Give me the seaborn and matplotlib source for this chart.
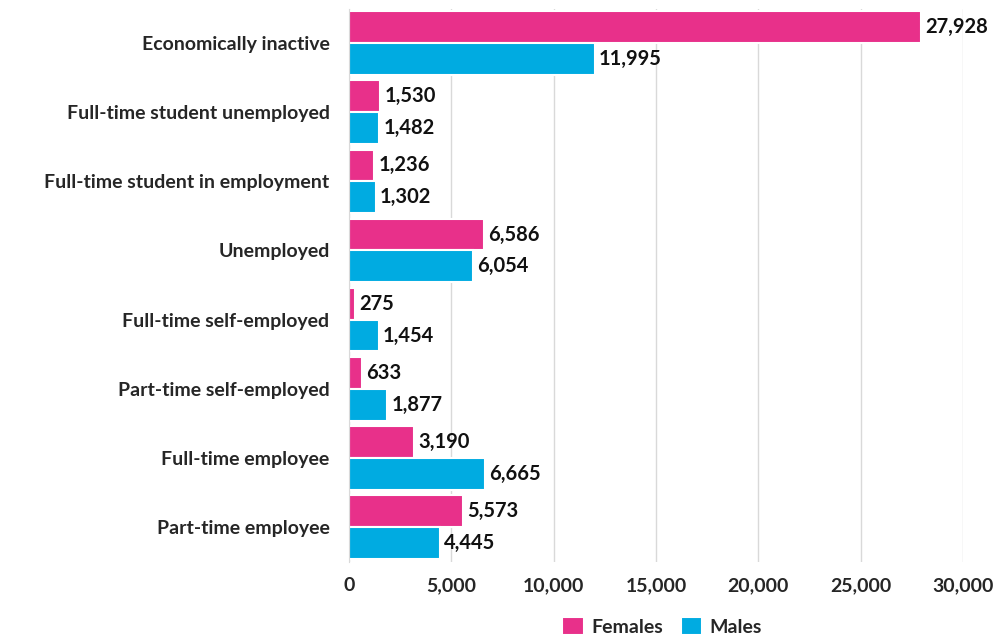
import pandas as pd
import matplotlib.pyplot as plt
import seaborn as sns

categories = ["Economically inactive", "Full-time student unemployed",
              "Full-time student in employment", "Unemployed",
              "Full-time self-employed", "Part-time self-employed",
              "Full-time employee", "Part-time employee"]
females = [27928, 1530, 1236, 6586, 275, 633, 3190, 5573]
males = [11995, 1482, 1302, 6054, 1454, 1877, 6665, 4445]

df = pd.DataFrame({
    "category": categories * 2,
    "value": females + males,
    "sex": ["Females"] * len(categories) + ["Males"] * len(categories),
})

sns.set_style("white")
plt.rcParams["font.family"] = ["Lato", "DejaVu Sans"]

fig = plt.figure(figsize=(9.96, 6.36), dpi=100)
ax = fig.add_axes([0.3504, 0.1171, 0.6165, 0.8695])

palette = {"Females": "#E8308A", "Males": "#00ABE1"}
sns.barplot(data=df, y="category", x="value", hue="sex", order=categories,
            hue_order=["Females", "Males"], palette=palette, orient="h",
            width=0.92, edgecolor="white", linewidth=1.5, saturation=1, ax=ax)

# value labels at the end of each bar
for container in ax.containers:
    ax.bar_label(container, labels=[f"{int(v):,}" for v in container.datavalues],
                 padding=3, fontsize=14.5, fontweight="bold", color="#111111",
                 clip_on=False)

ax.set_xlim(0, 30000)
ax.set_ylim(7.5, -0.5)
ax.set_xticks(range(0, 30001, 5000))
ax.set_xticklabels([f"{t:,}" for t in range(0, 30001, 5000)],
                   fontsize=14, fontweight="bold")
ax.set_yticklabels(categories, fontsize=14, fontweight="bold")
ax.tick_params(axis="y", length=0, pad=14)
ax.tick_params(axis="x", length=0, pad=11)
ax.set_xlabel("")
ax.set_ylabel("")
ax.grid(axis="x", color="#D9D9D9", linewidth=1)
ax.set_axisbelow(True)
for s in ["top", "right", "bottom"]:
    ax.spines[s].set_visible(False)
ax.spines["left"].set_color("#D9D9D9")

ax.legend(loc="center", bbox_to_anchor=(0.51, -0.117), ncol=2, frameon=False,
          prop={"size": 14, "weight": "bold"}, handlelength=1.1,
          handleheight=1.1, handletextpad=0.4, columnspacing=0.9,
          borderpad=0.1)

plt.savefig("out.png", dpi=100)
